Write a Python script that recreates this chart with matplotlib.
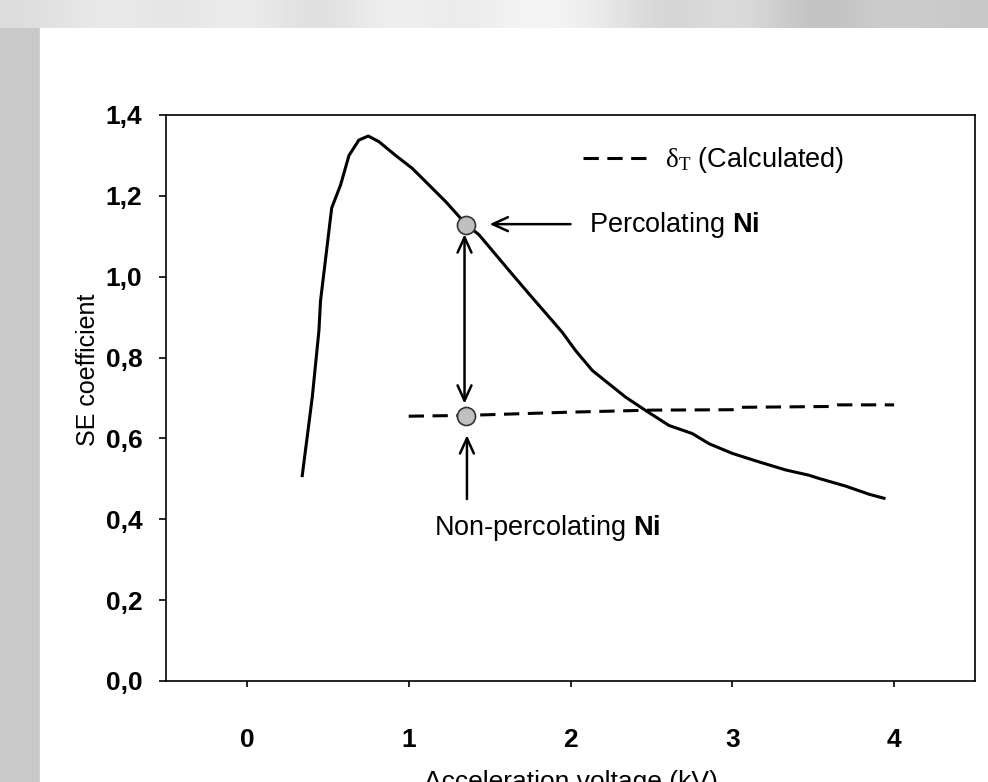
import numpy as np
import matplotlib
matplotlib.use('Agg')
from matplotlib import pyplot as plt
from matplotlib.patches import Rectangle
from matplotlib.ticker import FuncFormatter

plt.rcParams['font.family'] = ['Liberation Sans', 'DejaVu Sans']
plt.rcParams['mathtext.fontset'] = 'custom'
plt.rcParams['mathtext.rm'] = 'Liberation Serif'
plt.rcParams['mathtext.it'] = 'Liberation Serif:italic'
plt.rcParams['mathtext.bf'] = 'Liberation Sans:bold'

# SE coefficient measured on percolating Ni (solid curve)
volt_perc = [0.342, 0.404, 0.445, 0.455, 0.524, 0.579, 0.631, 0.692, 0.75,
             0.816, 0.919, 1.022, 1.125, 1.228, 1.311, 1.356, 1.434, 1.537,
             1.64, 1.764, 1.888, 1.95, 2.032, 2.135, 2.238, 2.341, 2.465,
             2.609, 2.753, 2.856, 3.0, 3.165, 3.33, 3.474, 3.536, 3.701,
             3.845, 3.938]
se_perc = [0.508, 0.702, 0.866, 0.94, 1.17, 1.227, 1.30, 1.338, 1.348,
           1.334, 1.30, 1.268, 1.227, 1.186, 1.149, 1.129, 1.104, 1.055,
           1.006, 0.948, 0.891, 0.862, 0.817, 0.768, 0.735, 0.702, 0.669,
           0.632, 0.612, 0.587, 0.563, 0.542, 0.522, 0.509, 0.501, 0.482,
           0.462, 0.452]

# calculated total SE yield (dashed)
volt_calc = [1.0, 1.36, 2.0, 2.5, 3.0, 3.05, 3.6, 3.65, 4.0]
se_calc = [0.655, 0.657, 0.665, 0.670, 0.671, 0.677, 0.679, 0.683, 0.683]

# highlighted points
mark_x = [1.356, 1.356]
mark_y = [1.129, 0.655]

xticks = [0, 1, 2, 3, 4]
yticks = [0.0, 0.2, 0.4, 0.6, 0.8, 1.0, 1.2, 1.4]

fig = plt.figure(figsize=(9.88, 7.82), dpi=100)
fig.patch.set_facecolor('#c9c9c9')

# grey photo strip at the top
strip = fig.add_axes([0, 1 - 28 / 782, 1, 28 / 782])
shade = np.array([[0.86, 0.93, 0.88, 0.95, 0.84, 0.96, 0.9, 0.97, 0.93,
                   0.8, 0.9, 0.72, 0.82, 0.78]])
strip.imshow(shade, cmap='gray', vmin=0, vmax=1, aspect='auto',
             interpolation='bicubic')
strip.axis('off')
fig.patches.append(Rectangle((40 / 988, 0), 1, 1 - 28 / 782,
                             transform=fig.transFigure, color='white',
                             zorder=-5))

ax = fig.add_axes([166 / 988, 1 - 681 / 782, 809 / 988, 566 / 782])
ax.plot(volt_perc, se_perc, color='black', lw=2.2, zorder=3)
ax.plot(volt_calc, se_calc, color='black', lw=2.2, dashes=(5, 2.8),
        label=r'$\mathrm{\delta_T}$ (Calculated)', zorder=3)
ax.plot(mark_x, mark_y, 'o', ms=13, mfc='#c0c0c0', mec='#333333', mew=1.2,
        zorder=5)

arrow = dict(arrowstyle='->,head_length=0.55,head_width=0.25', lw=1.8,
             color='black', mutation_scale=20, shrinkA=0, shrinkB=0)
arrow2 = dict(arrow, arrowstyle='<->,head_length=0.55,head_width=0.25')
ax.annotate('', xy=(1.50, 1.13), xytext=(2.0, 1.13), arrowprops=arrow)
ax.annotate('', xy=(1.345, 1.105), xytext=(1.345, 0.686), arrowprops=arrow2)
ax.annotate('', xy=(1.36, 0.608), xytext=(1.36, 0.45), arrowprops=arrow)
ax.text(2.115, 1.128, r'Percolating $\mathbf{Ni}$', fontsize=19.5,
        ha='left', va='center')
ax.text(1.156, 0.378, r'Non-percolating $\mathbf{Ni}$', fontsize=19.5,
        ha='left', va='center')

leg = ax.legend(loc='center left', bbox_to_anchor=(0.515, 0.92),
                frameon=False, fontsize=19.5, handlelength=2.6,
                handletextpad=0.45, borderpad=0, borderaxespad=0)

ax.set_xlim(-0.5, 4.5)
ax.set_ylim(0, 1.4)
ax.set_xticks(xticks)
ax.set_yticks(yticks)
ax.yaxis.set_major_formatter(FuncFormatter(lambda v, p: f'{v:.1f}'.replace('.', ',')))
ax.tick_params(axis='x', direction='out', length=4, width=1.2, pad=30,
               labelsize=19)
ax.tick_params(axis='y', direction='out', length=5, width=1.2, pad=12,
               labelsize=19)
for lab in ax.get_xticklabels() + ax.get_yticklabels():
    lab.set_fontweight('bold')
for s in ax.spines.values():
    s.set_linewidth(1.2)

ax.set_xlabel('Acceleration voltage (kV)', fontsize=19, labelpad=13)
ax.set_ylabel('SE coefficient', fontsize=18)
ax.yaxis.set_label_coords(-0.082, 0.55)

fig.savefig('out.png', dpi=100)
